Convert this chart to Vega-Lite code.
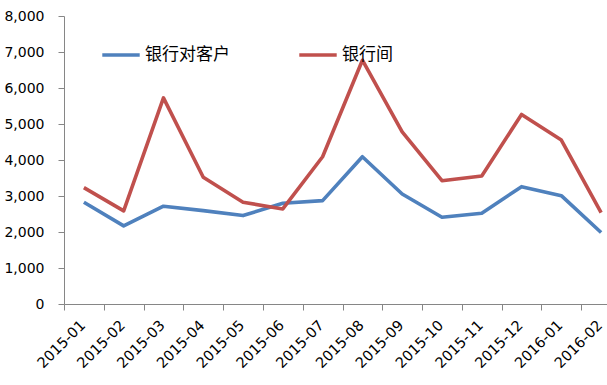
{
  "$schema": "https://vega.github.io/schema/vega-lite/v6.json",
  "autosize": "none",
  "width": 543,
  "height": 288,
  "padding": {"left": 64, "top": 16, "right": 0, "bottom": 81},
  "background": "white",
  "config": {"view": {"stroke": null}},
  "data": {"values": [
    {"month": "2015-01", "series": "银行对客户", "value": 2827},
    {"month": "2015-02", "series": "银行对客户", "value": 2170},
    {"month": "2015-03", "series": "银行对客户", "value": 2716},
    {"month": "2015-04", "series": "银行对客户", "value": 2594},
    {"month": "2015-05", "series": "银行对客户", "value": 2456},
    {"month": "2015-06", "series": "银行对客户", "value": 2800},
    {"month": "2015-07", "series": "银行对客户", "value": 2871},
    {"month": "2015-08", "series": "银行对客户", "value": 4091},
    {"month": "2015-09", "series": "银行对客户", "value": 3057},
    {"month": "2015-10", "series": "银行对客户", "value": 2411},
    {"month": "2015-11", "series": "银行对客户", "value": 2522},
    {"month": "2015-12", "series": "银行对客户", "value": 3259},
    {"month": "2016-01", "series": "银行对客户", "value": 3010},
    {"month": "2016-02", "series": "银行对客户", "value": 1985},
    {"month": "2015-01", "series": "银行间", "value": 3232},
    {"month": "2015-02", "series": "银行间", "value": 2586},
    {"month": "2015-03", "series": "银行间", "value": 5726},
    {"month": "2015-04", "series": "银行间", "value": 3520},
    {"month": "2015-05", "series": "银行间", "value": 2827},
    {"month": "2015-06", "series": "银行间", "value": 2641},
    {"month": "2015-07", "series": "银行间", "value": 4091},
    {"month": "2015-08", "series": "银行间", "value": 6771},
    {"month": "2015-09", "series": "银行间", "value": 4784},
    {"month": "2015-10", "series": "银行间", "value": 3426},
    {"month": "2015-11", "series": "银行间", "value": 3556},
    {"month": "2015-12", "series": "银行间", "value": 5266},
    {"month": "2016-01", "series": "银行间", "value": 4554},
    {"month": "2016-02", "series": "银行间", "value": 2540}
  ]},
  "mark": {"type": "line", "strokeWidth": 3.6, "strokeJoin": "round"},
  "encoding": {
    "x": {
      "field": "month", "type": "ordinal",
      "scale": {"type": "band", "range": [0, 557], "paddingInner": 0, "paddingOuter": 0},
      "axis": {
        "title": null, "tickBand": "extent", "labelAngle": -45,
        "labelFont": "DejaVu Sans", "labelFontSize": 14.5, "labelColor": "#000000",
        "domainColor": "#868686", "tickColor": "#868686", "tickSize": 6,
        "labelPadding": 8, "labelOffset": -6, "grid": false
      }
    },
    "y": {
      "field": "value", "type": "quantitative",
      "scale": {"domain": [0, 8000], "nice": false},
      "axis": {
        "title": null, "values": [0, 1000, 2000, 3000, 4000, 5000, 6000, 7000, 8000],
        "format": ",.0f", "labelFont": "DejaVu Sans", "labelFontSize": 14, "labelColor": "#000000",
        "domainColor": "#868686", "tickColor": "#868686", "tickSize": 6,
        "labelPadding": 14, "grid": false
      }
    },
    "color": {
      "field": "series", "type": "nominal",
      "scale": {"domain": ["银行对客户", "银行间"], "range": ["#4F81BD", "#C0504D"]},
      "legend": {
        "title": null, "orient": "none", "direction": "horizontal",
        "legendX": 36, "legendY": 18,
        "symbolType": "stroke", "symbolSize": 1400, "symbolStrokeWidth": 3.6,
        "labelFont": "Noto Sans CJK SC", "labelFontSize": 17, "labelColor": "#000000",
        "labelOffset": 3, "columnPadding": 62
      }
    }
  }
}
